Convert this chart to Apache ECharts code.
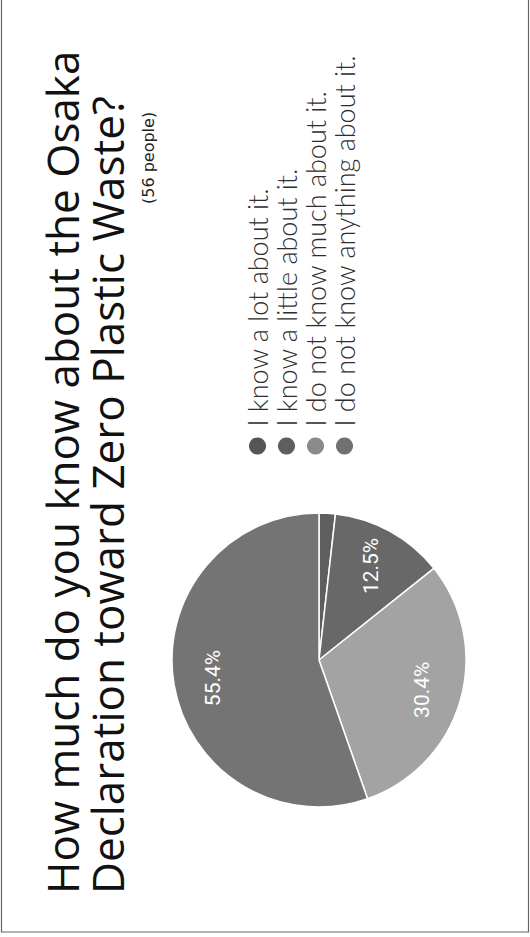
<!DOCTYPE html>
<html><head><meta charset="utf-8">
<script src="https://cdn.jsdelivr.net/npm/echarts@6/dist/echarts.min.js"></script>
<style>
html,body{margin:0;padding:0;width:530px;height:937px;overflow:hidden;background:#fff;}
#chart{position:absolute;width:937px;height:530px;left:0;top:0;transform-origin:0 0;transform:translate(0px,937px) rotate(-90deg);}
</style>
</head><body>
<div id="chart"></div>
<script>
const titleLines = ['How much do you know about the Osaka', 'Declaration toward Zero Plastic Waste?'];
const respondents = 56;
const categories = ['I know a lot about it.', 'I know a little about it.', 'I do not know much about it.', 'I do not know anything about it.'];
const counts = [1, 7, 17, 31];
const pieColors = ['#5e5e5e', '#686868', '#a3a3a3', '#747474'];
const legendColors = ['#555555', '#5e5e5e', '#8a8a8a', '#717171'];

const total = counts.reduce((a, b) => a + b, 0);
const chart = echarts.init(document.getElementById('chart'), null, {renderer: 'svg', width: 937, height: 530});

const pieData = categories.map((c, i) => ({name: c, value: counts[i], itemStyle: {color: pieColors[i]}}));
const labelData = categories.map((c, i) => ({name: c, value: counts[i]}));

chart.setOption({
  backgroundColor: '#ffffff',
  animation: false,
  title: [{
    text: titleLines.join('\n'),
    left: 38, top: 34,
    textStyle: {fontFamily: 'Open Sans', fontSize: 44, lineHeight: 45, fontWeight: 'normal', color: '#111111'}
  }, {
    text: '{a|(' + respondents + '}{b| people)}',
    left: 728, top: 135,
    textStyle: {fontWeight: 'normal', rich: {
      a: {fontFamily: 'DejaVu Sans', fontSize: 16, fontWeight: 'normal', color: '#222'},
      b: {fontFamily: 'DejaVu Sans', fontSize: 16, fontWeight: 'normal', color: '#222'}
    }}
  }],
  legend: {
    orient: 'vertical',
    left: 480.5, top: 244,
    padding: 0,
    itemWidth: 29, itemHeight: 19, itemGap: 2,
    icon: 'circle',
    selectedMode: false,
    data: categories.map((c, i) => ({name: c, itemStyle: {color: legendColors[i]}})),
    textStyle: {fontFamily: 'Lato', fontWeight: 300, fontSize: 27, color: '#2e2e2e'}
  },
  graphic: [{
    type: 'polyline', silent: true,
    shape: {points: [[1000, 1.5], [5, 1.5], [5, 528.5], [1000, 528.5]]},
    style: {stroke: '#666666', lineWidth: 1.2, fill: null}
  }],
  series: [{
    type: 'pie',
    center: [277, 319], radius: [0, 147],
    startAngle: 0, clockwise: true,
    silent: true,
    label: {show: false}, labelLine: {show: false},
    itemStyle: {borderColor: '#ffffff', borderWidth: 1.5},
    data: pieData
  }, {
    type: 'pie',
    center: [277, 319], radius: [62, 147],
    startAngle: 0, clockwise: true,
    silent: true,
    itemStyle: {color: 'rgba(0,0,0,0)', borderWidth: 0},
    labelLine: {show: false},
    label: {
      show: true, position: 'inside',
      fontFamily: 'Roboto', fontSize: 21, color: '#ffffff',
      formatter: p => { const pct = p.value / total * 100; return pct >= 5 ? pct.toFixed(1) + '%' : ''; }
    },
    data: labelData
  }]
});
</script>
</body></html>
